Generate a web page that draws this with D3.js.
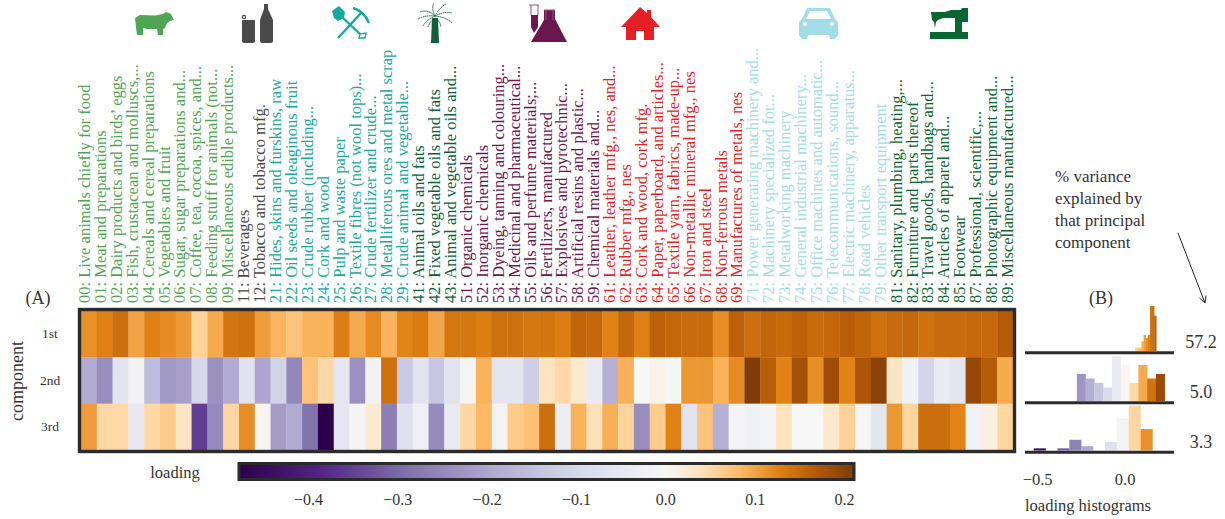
<!DOCTYPE html>
<html>
<head>
<meta charset="utf-8">
<script src="https://cdnjs.cloudflare.com/ajax/libs/d3/7.8.5/d3.min.js"></script>
<style>
  html, body { margin: 0; padding: 0; background: #fff; }
  svg { display: block; }
  text { font-family: "Liberation Serif", serif; fill: #333; }
</style>
</head>
<body>
<div id="chart"></div>
<script type="text/javascript">
  const width = 1225, height = 519;

  const codes = ['00','01','02','03','04','05','06','07','08','09','11','12','21','22','23','24','25','26','27','28','29','41','42','43','51','52','53','54','55','56','57','58','59','61','62','63','64','65','66','67','68','69','71','72','73','74','75','76','77','78','79','81','82','83','84','85','87','88','89'];
  const names = ['Live animals chiefly for food','Meat and preparations','Dairy products and birds\u2019 eggs','Fish, crustacean and molluscs,...','Cereals and cereal preparations','Vegetables and fruit','Sugar, sugar preparations and...','Coffee, tea, cocoa, spices, and...','Feeding stuff for animals (not...','Miscellaneous edible products...',
    'Beverages','Tobacco and tobacco mfg.',
    'Hides, skins and furskins, raw','Oil seeds and oleaginous fruit','Crude rubber (including...','Cork and wood','Pulp and waste paper','Textile fibres (not wool tops)...','Crude fertilizer and crude...','Metalliferous ores and metal scrap','Crude animal and vegetable...',
    'Animal oils and fats','Fixed vegetable oils and fats','Animal and vegetable oils and...',
    'Organic chemicals','Inorganic chemicals','Dyeing, tanning and colouring...','Medicinal and pharmaceutical...','Oils and perfume materials;...','Fertilizers, manufactured','Explosives and pyrotechnic...','Artificial resins and plastic...','Chemical materials and...',
    'Leather, leather mfg., nes, and...','Rubber mfg., nes','Cork and wood, cork mfg.','Paper, paperboard, and articles...','Textile yarn, fabrics, made-up...','Non-metallic mineral mfg., nes','Iron and steel','Non-ferrous metals','Manufactures of metals, nes',
    'Power generating machinery and...','Machinery specialized for...','Metalworking machinery','General industrial machinery...','Office machines and automatic...','Telecommunications, sound...','Electric machinery, apparatus...','Road vehicles','Other transport equipment',
    'Sanitary, plumbing, heating,...','Furniture and parts thereof','Travel goods, handbags and...','Articles of apparel and...','Footwear','Professional, scientific,...','Photographic equipment and...','Miscellaneous manufactured...'];

  // first digit of the code -> group colour
  const groupDigits = ['0','1','2','4','5','6','7','8'];
  const groupColors = ['#4fa553','#4a4a4a','#17a99e','#0f5e3c','#6c1650','#e41f26','#a3dbe6','#0a6630'];

  const components = ['1st','2nd','3rd'];
  const pc1 = [.115,.128,.145,.10,.127,.118,.108,.055,.095,.138,.143,.105,.086,.072,.088,.088,.13,.095,.118,.087,.124,.132,.098,.137,.136,.13,.144,.144,.137,.138,.13,.155,.152,.126,.152,.128,.158,.153,.149,.149,.117,.16,.145,.154,.149,.159,.149,.152,.163,.155,.143,.149,.152,.143,.149,.149,.151,.151,.166];
  const pc2 = [-.19,-.24,-.065,-.015,-.155,-.22,-.21,-.10,-.235,-.19,-.07,-.2,-.11,-.25,.072,.05,-.055,-.235,-.015,.143,-.13,-.065,-.135,-.065,-.005,.088,-.06,-.06,-.12,.035,.05,.025,-.04,-.18,.09,.0,.01,-.005,.11,.11,.088,.118,.21,.163,.126,.18,.116,.185,.126,.173,.2,.032,-.02,-.105,-.04,-.06,.193,.166,.095];
  const pc3 = [.105,.05,.05,-.05,.05,.064,.032,-.355,-.245,.052,.117,.005,-.215,-.19,-.285,-.476,-.055,-.01,.025,-.265,-.075,-.025,-.245,-.045,.052,.084,-.012,.065,.075,.145,-.03,.088,.04,.092,.055,-.24,.062,.126,-.065,.072,-.18,-.01,-.02,-.01,.037,0,0,.028,.058,-.005,-.06,.11,.053,.146,.146,.125,-.018,.015,.053];
  const loadings = [pc1, pc2, pc3];

  // histogram counts per component, 10 bins over each component's range
  const hist1 = [1,1,1,3,5,4,5,14,14,11];
  const hist2 = [6,5,4,3,10,8,4,8,5,6];
  const hist3 = [1,0,1,5,2,0,4,15,21,10];
  const histCounts = [hist1, hist2, hist3];
  const histRanges = [[.055,.166],[-.25,.21],[-.476,.146]];
  const variance = ['57.2','5.0','3.3'];

  const cbarTicks = [-.4,-.3,-.2,-.1,0,.1,.2];
  const histTicks = [-.5,0];
  const noteLines = ['% variance','explained by','that principal','component'];

  // PuOr reversed, piecewise like matplotlib, white at 0
  const stopValues = [-.476,-.381,-.286,-.19,-.095,0,.042,.084,.126,.168,.21];
  const stopColors = ['#2d004b','#542788','#8073ac','#b2abd2','#d8daeb','#f7f7f7','#fee0b6','#fdb863','#e08214','#b35806','#7f3b08'];
  const color = d3.scaleLinear().domain(stopValues).range(stopColors).clamp(true);

  const svg = d3.select('#chart').append('svg')
    .attr('width', width)
    .attr('height', height);

  ////////////////// heatmap (A) //////////////////
  const x = d3.scaleBand().domain(d3.range(codes.length)).range([81, 1013]);
  const y = d3.scaleBand().domain(components).range([311, 450]);

  const rows = svg.append('g').selectAll('g')
    .data(loadings)
    .enter().append('g');

  rows.selectAll('rect')
    .data(function(d, i) { return d.map(function(v, j) { return {v: v, j: j, row: i}; }); })
    .enter().append('rect')
    .attr('x', function(d) { return x(d.j); })
    .attr('y', function(d) { return y(components[d.row]); })
    .attr('width', x.bandwidth() + 0.3)
    .attr('height', y.bandwidth() + 0.3)
    .attr('fill', function(d) { return color(d.v); });

  svg.append('rect')
    .attr('x', 79.5).attr('y', 309.5)
    .attr('width', 935).attr('height', 142)
    .attr('fill', 'none')
    .attr('stroke', '#2b2b2b')
    .attr('stroke-width', 3.4);

  svg.selectAll('.rowlabel')
    .data(components)
    .enter().append('text')
    .attr('class', 'rowlabel')
    .attr('x', 50)
    .attr('y', function(d) { return y(d) + y.bandwidth() / 2 + 4; })
    .attr('text-anchor', 'middle')
    .style('font-size', '13.5px')
    .text(function(d) { return d; });

  svg.append('text')
    .attr('transform', 'translate(23,381) rotate(-90)')
    .attr('text-anchor', 'middle')
    .style('font-size', '18px')
    .text('component');

  svg.append('text').attr('x', 38).attr('y', 304)
    .attr('text-anchor', 'middle')
    .style('font-size', '18px')
    .text('(A)');

  // top labels, slightly wider than the cells
  const labelX = d3.scalePoint().domain(d3.range(codes.length)).range([85, 1008]);
  svg.append('g').selectAll('text')
    .data(codes)
    .enter().append('text')
    .attr('transform', function(d, i) { return 'translate(' + (labelX(i) + 5) + ',303) rotate(-90)'; })
    .style('font-size', '16.5px')
    .style('fill', function(d) { return groupColors[groupDigits.indexOf(d[0])]; })
    .text(function(d, i) { return d + ': ' + names[i]; });

  ////////////////// icons //////////////////
  const icons = svg.append('g');
  // cow
  icons.append('path').attr('fill', '#4fa553')
    .attr('d', 'M135 18L140 15L155 15.500L163 14L166 12L169 13L171 14L174 20L170 21L167 23L165 28L163 29L163 35L158 35L157 29L147 29L143 28L143 35L137 35L136 27Z');
  // can and bottle
  icons.append('path').attr('fill', '#4a4a4a')
    .attr('d', 'M242 21Q242 20 243 20L254 20Q255 20 255 21L255 41Q255 43 253 43L244 43Q242 43 242 41Z M264 4L268 4L268 9L273 20L273 41Q273 43 271 43L262 43Q260 43 260 41L260 20L264 9Z');
  icons.append('circle').attr('cx', 244).attr('cy', 17).attr('r', 1.6)
    .attr('fill', 'none').attr('stroke', '#4a4a4a').attr('stroke-width', 1.2);
  // shovel and pick
  icons.append('path').attr('fill', '#17a99e')
    .attr('d', 'M332 11L339 6L345 12L344 18L338 21L334 18Z');
  icons.append('path').attr('fill', 'none').attr('stroke', '#17a99e').attr('stroke-width', 2.4)
    .attr('d', 'M341 16L360 34 M338 38L362 12 M353 8Q364 11 369 23');
  icons.append('path').attr('fill', 'none').attr('stroke', '#17a99e').attr('stroke-width', 1.4)
    .attr('d', 'M360 34L366 33L365 38L359 38Z');
  // palm
  icons.append('path').attr('fill', '#0f5e3c').attr('d', 'M432 18L438 18L439 43L431 43Z');
  icons.append('path').attr('fill', 'none').attr('stroke', '#0f5e3c').attr('stroke-width', 1).attr('stroke-dasharray', '1.5 0.6')
    .attr('d', 'M435 16Q428 9 420 12 M435 16Q425 15 418 19 M435 16Q426 20 423 26 M435 16Q431 8 434 3 M435 16Q440 7 446 4 M435 16Q444 11 452 13 M435 16Q446 17 452 23 M435 18Q440 21 441 27 M435 18Q430 21 428 27');
  // test tube and flask
  icons.append('path').attr('fill', '#6c1650')
    .attr('d', 'M531 15L538 15L538 27L534 33L531 27Z M544 10L555 10L555 19L567 42L531 42L544 20Z');
  icons.append('path').attr('fill', 'none').attr('stroke', '#8a5a78').attr('stroke-width', 1)
    .attr('d', 'M529 5L539 5 M531 5L531 15 M538 5L538 15 M544 10L555 10 M546 10L546 20 M553 10L553 20');
  // house
  icons.append('path').attr('fill', '#e41f26')
    .attr('d', 'M640 7L647 13L647 10L651 10L651 17L660 27L654 27L654 40L644 40L644 31L636 31L636 40L626 40L626 27L621 27Z');
  // car
  icons.append('path').attr('fill', '#a3dbe6').attr('fill-rule', 'evenodd')
    .attr('d', 'M807 8L830 8L835 19L838 22L838 35L835 39L830 39L829 35L808 35L807 39L802 39L799 35L799 22L802 19Z M810 11L806 19L831 19L827 11Z');
  icons.append('circle').attr('cx', 805).attr('cy', 24).attr('r', 2).attr('fill', '#fff');
  icons.append('circle').attr('cx', 832).attr('cy', 24).attr('r', 2).attr('fill', '#fff');
  // sewing machine
  icons.append('path').attr('fill', '#0a6630')
    .attr('d', 'M931 12L945 12L951 10L961 10L962 8L968 8L968 22L962 22L962 32L968 32L968 39L930 39L930 32L955 32L955 18L943 18L938 20L936 22L935 28L934 22L932 20Z');

  ////////////////// colourbar //////////////////
  const cbar = d3.scaleLinear().domain([-.476, .21]).range([240, 853]);

  const gradient = svg.append('defs').append('linearGradient').attr('id', 'cbarfill');
  gradient.selectAll('stop')
    .data(stopValues)
    .enter().append('stop')
    .attr('offset', function(d) { return (d - cbar.domain()[0]) / (cbar.domain()[1] - cbar.domain()[0]); })
    .attr('stop-color', function(d) { return color(d); });

  svg.append('rect')
    .attr('x', cbar.range()[0] - 1).attr('y', 463.500)
    .attr('width', cbar.range()[1] - cbar.range()[0] + 2).attr('height', 16)
    .attr('fill', 'url(#cbarfill)')
    .attr('stroke', '#2b2b2b')
    .attr('stroke-width', 3);

  const cbarAxis = svg.append('g')
    .attr('transform', 'translate(0,491)')
    .call(d3.axisBottom(cbar).tickValues(cbarTicks).tickSize(0).tickFormat(d3.format('.1f')));
  cbarAxis.select('.domain').remove();
  cbarAxis.selectAll('text').style('font-family', '"Liberation Serif", serif').style('font-size', '16px').style('fill', '#333');

  svg.append('text').attr('x', 175).attr('y', 478)
    .attr('text-anchor', 'middle')
    .style('font-size', '16.5px')
    .text('loading');

  ////////////////// histograms (B) //////////////////
  const hx = d3.scaleLinear().domain([-.476, .146]).range([1033.7, 1152.5]);
  const hBase = [351, 401, 450.500];

  histCounts.forEach(function(counts, k) {
    const hy = d3.scaleLinear().domain([0, d3.max(counts)]).range([hBase[k], hBase[k] - 45]);
    const r = histRanges[k];
    const w = (r[1] - r[0]) / counts.length;
    svg.append('g').selectAll('rect')
      .data(counts)
      .enter().append('rect')
      .attr('x', function(d, i) { return hx(r[0] + i * w); })
      .attr('y', function(d) { return hy(d); })
      .attr('width', hx(r[0] + w) - hx(r[0]) + 0.2)
      .attr('height', function(d) { return hBase[k] - hy(d); })
      .attr('fill', function(d, i) { return color(r[0] + (i + 0.5) * w); });

    svg.append('line')
      .attr('x1', 1025).attr('x2', 1174)
      .attr('y1', hBase[k] + 1.7).attr('y2', hBase[k] + 1.7)
      .attr('stroke', '#2b2b2b')
      .attr('stroke-width', 3);

    svg.append('text')
      .attr('x', 1201).attr('y', hBase[k] - 3)
      .attr('text-anchor', 'middle')
      .style('font-size', '18px')
      .text(variance[k]);
  });

  // the -0.5 label sits a bit inside its tick in the original
  const histAxis = svg.append('g')
    .attr('transform', 'translate(0,470)')
    .call(d3.axisBottom(hx).tickValues(histTicks).tickSize(0).tickFormat(d3.format('.1f')));
  histAxis.select('.domain').remove();
  histAxis.selectAll('text')
    .attr('dx', function(d) { return d < 0 ? 8 : 0; })
    .style('font-family', '"Liberation Serif", serif').style('font-size', '16.5px').style('fill', '#333');

  svg.append('text').attr('x', 1088).attr('y', 511)
    .attr('text-anchor', 'middle')
    .style('font-size', '16.5px')
    .text('loading histograms');

  svg.append('text').attr('x', 1101).attr('y', 304)
    .attr('text-anchor', 'middle')
    .style('font-size', '18px')
    .text('(B)');

  svg.append('g').selectAll('text')
    .data(noteLines)
    .enter().append('text')
    .attr('x', 1055)
    .attr('y', function(d, i) { return 182 + i * 22; })
    .style('font-size', '17px')
    .text(function(d) { return d; });

  svg.append('path')
    .attr('d', 'M1178 233L1205 303 M1199.500 298L1205 303L1206 295.500')
    .attr('fill', 'none')
    .attr('stroke', '#222')
    .attr('stroke-width', 1);
</script>
</body>
</html>
